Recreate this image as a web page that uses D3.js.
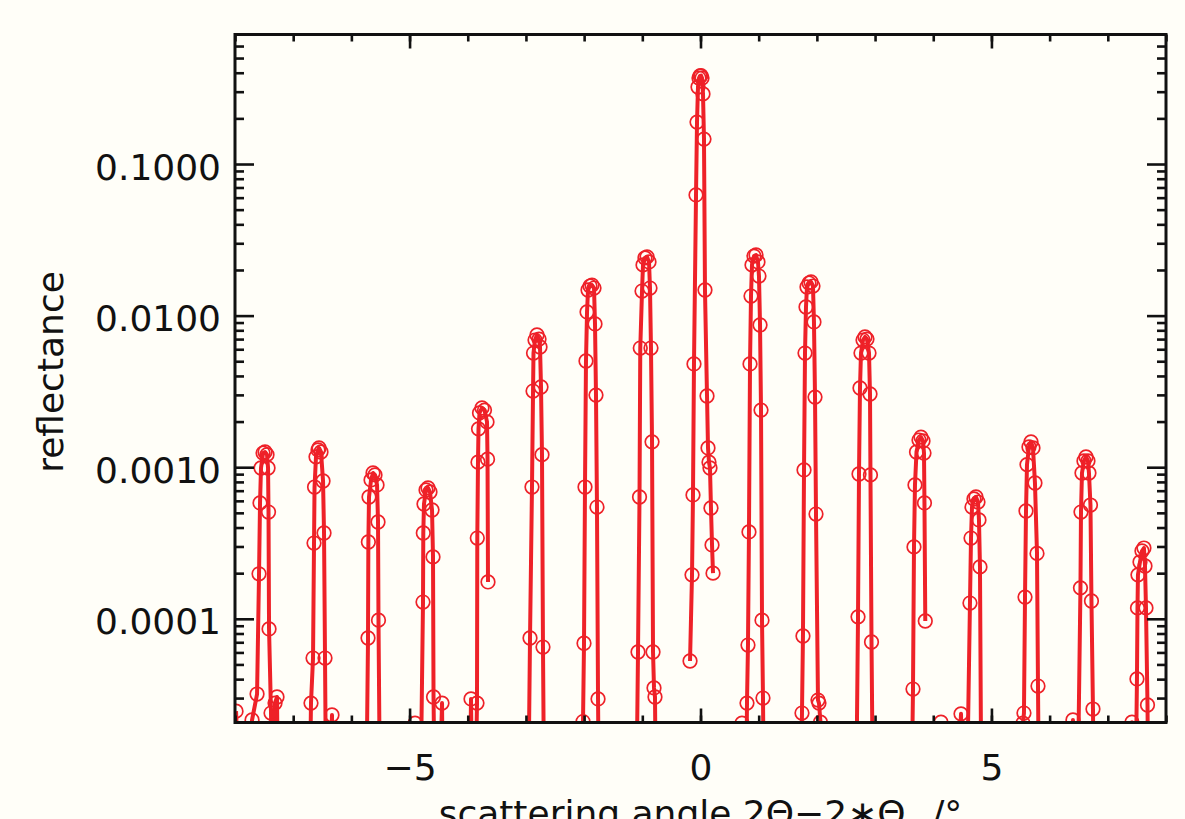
<!DOCTYPE html>
<html><head><meta charset="utf-8">
<script src="https://cdn.jsdelivr.net/npm/d3@7"></script>
<style>html,body{margin:0;padding:0;background:#fffef8;overflow:hidden}</style>
</head><body>
<svg id="chart" width="1185" height="819"></svg>
<script>
// ---- data: one inner array per measured scan around each satellite peak ----
const angle = [
  [-7.982,-7.845,-7.707,-7.621,-7.587,-7.570,-7.553,-7.518,-7.484,-7.450,-7.432,-7.424,-7.415,-7.381,-7.347,-7.312,-7.278,-7.243],
  [-6.745,-6.694,-6.659,-6.642,-6.633,-6.608,-6.573,-6.556,-6.522,-6.487,-6.470,-6.453,-6.419,-6.333,-6.298],
  [-5.766,-5.714,-5.708,-5.697,-5.662,-5.628,-5.594,-5.559,-5.542,-5.534,-5.491],
  [-4.975,-4.906,-4.838,-4.769,-4.764,-4.752,-4.717,-4.683,-4.649,-4.614,-4.597,-4.588,-4.545,-4.442,-4.408],
  [-3.996,-3.944,-3.901,-3.841,-3.836,-3.824,-3.815,-3.798,-3.755,-3.712,-3.669,-3.660,-3.652],
  [-2.982,-2.930,-2.896,-2.878,-2.870,-2.844,-2.810,-2.775,-2.758,-2.741,-2.724,-2.707,-2.672],
  [-2.071,-2.019,-2.002,-1.985,-1.968,-1.950,-1.933,-1.899,-1.865,-1.830,-1.813,-1.796,-1.779,-1.761,-1.727],
  [-1.126,-1.074,-1.048,-1.035,-1.005,-0.988,-0.954,-0.919,-0.885,-0.868,-0.851,-0.833,-0.816,-0.799,-0.782,-0.748],
  [-0.180,-0.146,-0.129,-0.112,-0.077,-0.060,-0.043,-0.026,-0.009,0.009,0.026,0.043,0.060,0.077,0.112,0.129,0.146,0.163,0.180,0.198,0.215],
  [0.713,0.765,0.799,0.816,0.833,0.851,0.868,0.885,0.919,0.954,0.988,1.005,1.023,1.040,1.057,1.074,1.108],
  [1.693,1.744,1.761,1.779,1.796,1.813,1.830,1.865,1.899,1.933,1.950,1.968,1.985,2.019,2.036,2.062,2.105],
  [2.655,2.707,2.724,2.741,2.758,2.793,2.827,2.861,2.896,2.913,2.921,2.939,2.982],
  [3.600,3.652,3.669,3.686,3.712,3.755,3.789,3.824,3.841,3.849,3.863],
  [4.133,4.305,4.477,4.545,4.631,4.649,4.666,4.700,4.734,4.769,4.786,4.803,4.838],
  [5.491,5.542,5.559,5.577,5.594,5.611,5.645,5.680,5.714,5.748,5.783,5.800,5.834],
  [6.367,6.401,6.453,6.530,6.539,6.556,6.590,6.625,6.659,6.676,6.702,6.719,6.745,6.779],
  [7.364,7.415,7.450,7.501,7.510,7.518,7.553,7.587,7.621,7.639,7.656,7.682,7.716]
];
const reflectance = [
  [2.46e-5,1e-6,2.15e-5,3.19e-5,1.98e-4,5.81e-4,9.88e-4,1.24e-3,1.26e-3,1.21e-3,9.88e-4,5.06e-4,8.57e-5,2.39e-5,1e-6,2.78e-5,3.05e-5,1e-6],
  [1e-6,2.78e-5,5.51e-5,3.16e-4,7.4e-4,1.17e-3,1.30e-3,1.34e-3,1.26e-3,8.11e-4,3.68e-4,5.51e-5,1e-6,2.32e-5,1e-6],
  [1e-6,7.47e-5,3.21e-4,6.36e-4,8.24e-4,9.16e-4,8.9e-4,7.64e-4,4.35e-4,9.8e-5,1e-6],
  [1e-6,2.05e-5,1e-6,1.29e-4,3.68e-4,5.72e-4,7.08e-4,7.3e-4,6.86e-4,5.22e-4,2.56e-4,3.05e-5,1e-6,2.78e-5,1e-6],
  [1e-6,2.96e-5,1e-6,2.78e-5,3.41e-4,1.08e-3,1.79e-3,2.28e-3,2.46e-3,2.38e-3,1.99e-3,1.13e-3,1.75e-4],
  [1e-6,7.47e-5,7.4e-4,3.18e-3,5.66e-3,6.9e-3,7.45e-3,7.0e-3,6.21e-3,3.38e-3,1.21e-3,6.51e-5,1e-6],
  [1e-6,2.1e-5,6.9e-5,7.4e-4,5.02e-3,1.057e-2,1.476e-2,1.567e-2,1.59e-2,1.52e-2,8.81e-3,2.99e-3,5.46e-4,2.96e-5,1e-6],
  [1e-6,6.04e-5,6.36e-4,6.11e-3,1.452e-2,2.16e-2,2.40e-2,2.44e-2,2.26e-2,1.52e-2,6.11e-3,1.47e-3,6.04e-5,3.5e-5,3.05e-5,1e-6],
  [5.27e-5,1.95e-4,6.56e-4,4.8e-3,6.25e-2,0.189,0.322,0.369,0.381,0.383,0.369,0.290,0.146,1.476e-2,2.95e-3,1.34e-3,1.08e-3,9.88e-4,5.38e-4,3.07e-4,2.0e-4],
  [2.05e-5,1e-6,2.78e-5,6.71e-5,3.74e-4,4.8e-3,1.346e-2,2.16e-2,2.47e-2,2.51e-2,2.26e-2,1.824e-2,8.67e-3,2.38e-3,9.8e-5,3.0e-5,1e-6],
  [1e-6,2.39e-5,7.7e-5,9.59e-4,5.66e-3,1.14e-2,1.545e-2,1.64e-2,1.667e-2,1.567e-2,9.08e-3,2.9e-3,4.91e-4,2.91e-5,2.78e-5,2.08e-5,1e-6],
  [1e-6,1.03e-4,9.02e-4,3.33e-3,5.66e-3,6.9e-3,7.23e-3,7.0e-3,5.66e-3,3.04e-3,8.9e-4,7.03e-5,1e-6],
  [1e-6,3.44e-5,2.98e-4,7.64e-4,1.26e-3,1.51e-3,1.58e-3,1.49e-3,1.24e-3,5.81e-4,9.67e-5],
  [2.08e-5,1e-6,2.36e-5,1e-6,1.27e-4,3.41e-4,5.46e-4,6.17e-4,6.36e-4,5.89e-4,4.49e-4,2.2e-4,1e-6],
  [1e-6,2.05e-5,2.39e-5,1.39e-4,5.14e-4,1.04e-3,1.36e-3,1.47e-3,1.34e-3,7.87e-4,2.7e-4,3.6e-5,1e-6],
  [1e-6,2.15e-5,1e-6,1.6e-4,5.06e-4,9.16e-4,1.10e-3,1.17e-3,1.10e-3,9.16e-4,5.63e-4,1.31e-4,2.54e-5,1e-6],
  [1e-6,2.08e-5,1e-6,4.01e-5,1.18e-4,1.95e-4,2.37e-4,2.8e-4,2.93e-4,2.23e-4,1.18e-4,2.7e-5,1e-6]
];
const xMajorTicks = [-5, 0, 5];
const xMinorTicks = [-8,-7,-6,-5,-4,-3,-2,-1,0,1,2,3,4,5,6,7,8];
const yMajorTicks = [0.0001, 0.001, 0.01, 0.1];
const yMinorTicks = [3e-5,4e-5,5e-5,6e-5,7e-5,8e-5,9e-5,
  2e-4,3e-4,4e-4,5e-4,6e-4,7e-4,8e-4,9e-4,
  2e-3,3e-3,4e-3,5e-3,6e-3,7e-3,8e-3,9e-3,
  2e-2,3e-2,4e-2,5e-2,6e-2,7e-2,8e-2,9e-2,
  0.2,0.3,0.4,0.5,0.6];
const xTitle = "scattering angle 2Θ−2∗Θ";
const xTitleSub = "B";
const xTitleTail = " /°";
const yTitle = "reflectance";

// ---- layout ----
const L = 235, R = 1166, T = 34.5, B = 722.5;
const red = "#ee2128";
const font = "DejaVu Sans, sans-serif";

const x = d3.scaleLinear().domain([-8, 8]).range([L, R]);
const y = d3.scaleLog().domain([2.07e-5, 0.715]).range([B, T]);

const svg = d3.select("#chart");
svg.append("rect").attr("width",1185).attr("height",819).attr("fill","#fffef8");

svg.append("defs").append("clipPath").attr("id","plotclip")
  .append("rect").attr("x",L).attr("y",T).attr("width",R-L).attr("height",B-T);

const scans = angle.map((a,i) => a.map((v,j) => ({x:v, r:reflectance[i][j]})));

const plot = svg.append("g").attr("clip-path","url(#plotclip)");
const line = d3.line().x(d => x(d.x)).y(d => y(d.r));
plot.selectAll("path.scan").data(scans).join("path")
  .attr("class","scan")
  .attr("d", line)
  .attr("fill","none").attr("stroke",red).attr("stroke-width",4)
  .attr("stroke-linejoin","round");
plot.selectAll("circle").data(scans.flat()).join("circle")
  .attr("cx", d => x(d.x)).attr("cy", d => y(d.r)).attr("r", 6.8)
  .attr("fill","none").attr("stroke",red).attr("stroke-width",1.7);

// ---- axes ----
function styleAxis(g, labels) {
  g.select(".domain").remove();
  g.selectAll(".tick line").attr("stroke","#111").attr("stroke-width",2.6);
  g.selectAll(".tick text").attr("fill","#111").attr("font-family",font).attr("font-size",36);
  if (!labels) g.selectAll(".tick text").remove();
}
// bottom
svg.append("g").attr("transform",`translate(0,${B})`)
  .call(d3.axisBottom(x).tickValues(xMinorTicks).tickSize(-7).tickFormat(""))
  .call(g => styleAxis(g,false));
svg.append("g").attr("transform",`translate(0,${B})`)
  .call(d3.axisBottom(x).tickValues(xMajorTicks).tickSize(-14).tickPadding(32).tickFormat(d3.format("d")))
  .call(g => styleAxis(g,true));
// top
svg.append("g").attr("transform",`translate(0,${T})`)
  .call(d3.axisTop(x).tickValues(xMinorTicks).tickSize(-7).tickFormat(""))
  .call(g => styleAxis(g,false));
svg.append("g").attr("transform",`translate(0,${T})`)
  .call(d3.axisTop(x).tickValues(xMajorTicks).tickSize(-14).tickFormat(""))
  .call(g => styleAxis(g,false));
// left
svg.append("g").attr("transform",`translate(${L},0)`)
  .call(d3.axisLeft(y).tickValues(yMinorTicks).tickSize(-9).tickFormat(""))
  .call(g => styleAxis(g,false));
svg.append("g").attr("transform",`translate(${L},0)`)
  .call(d3.axisLeft(y).tickValues(yMajorTicks).tickSize(-19).tickPadding(14).tickFormat(d3.format(".4f")))
  .call(g => { styleAxis(g,true); g.selectAll(".tick text").attr("dy","0.42em"); });
// right
svg.append("g").attr("transform",`translate(${R},0)`)
  .call(d3.axisRight(y).tickValues(yMinorTicks).tickSize(-9).tickFormat(""))
  .call(g => styleAxis(g,false));
svg.append("g").attr("transform",`translate(${R},0)`)
  .call(d3.axisRight(y).tickValues(yMajorTicks).tickSize(-19).tickFormat(""))
  .call(g => styleAxis(g,false));

// frame
svg.append("rect").attr("x",L).attr("y",T).attr("width",R-L).attr("height",B-T)
  .attr("fill","none").attr("stroke","#111").attr("stroke-width",3);

// titles (the reference crops the x title at the bottom edge)
const xt = svg.append("text").attr("x",(L+R)/2).attr("y",826)
  .attr("text-anchor","middle").attr("font-family",font).attr("font-size",36).attr("fill","#111");
xt.append("tspan").text(xTitle);
xt.append("tspan").attr("font-size",22).attr("dy",9).text(xTitleSub);
xt.append("tspan").attr("dy",-9).text(xTitleTail);

svg.append("text").attr("transform",`translate(63,372) rotate(-90)`)
  .attr("text-anchor","middle").attr("font-family",font).attr("font-size",36).attr("fill","#111")
  .text(yTitle);
</script>
</body></html>
